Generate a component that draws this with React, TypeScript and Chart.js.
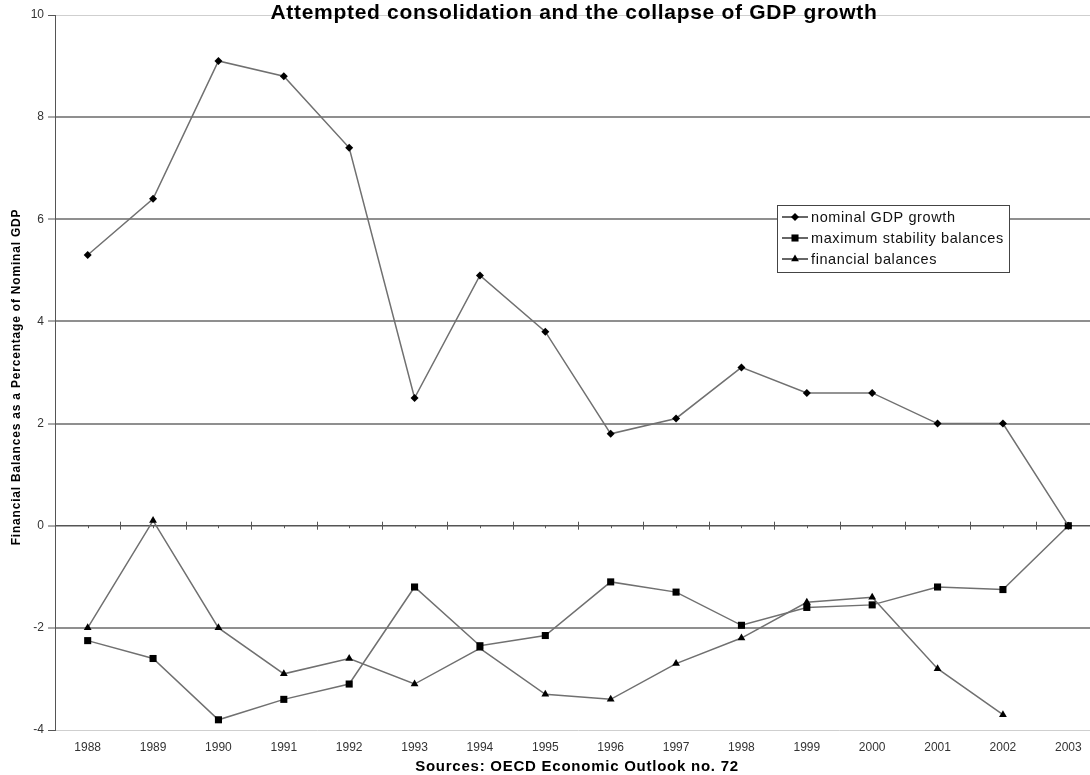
import React, { useEffect, useRef } from "react";
import { Chart, registerables } from "chart.js";

Chart.register(...registerables);

const years = ["1988","1989","1990","1991","1992","1993","1994","1995","1996","1997","1998","1999","2000","2001","2002","2003"];
const nominalGdpGrowth = [5.3, 6.4, 9.1, 8.8, 7.4, 2.5, 4.9, 3.8, 1.8, 2.1, 3.1, 2.6, 2.6, 2.0, 2.0, 0.0];
const maxStabilityBalances = [-2.25, -2.6, -3.8, -3.4, -3.1, -1.2, -2.35, -2.15, -1.1, -1.3, -1.95, -1.6, -1.55, -1.2, -1.25, 0.0];
const financialBalances = [-2.0, 0.1, -2.0, -2.9, -2.6, -3.1, -2.4, -3.3, -3.4, -2.7, -2.2, -1.5, -1.4, -2.8, -3.7, null];
const seriesNames = ["nominal GDP growth", "maximum stability balances", "financial balances"];
const titleText = "Attempted consolidation and the collapse of GDP growth";
const sourceText = "Sources: OECD Economic Outlook no. 72";
const yAxisTitle = "Financial Balances as a Percentage of Nominal GDP";

const FONT = "'Liberation Sans', Arial, sans-serif";
const LINE = "#707070";
const styles: { style: any; radius: number }[] = [
  { style: "rectRot", radius: 4 },
  { style: "rect", radius: 5 },
  { style: "triangle", radius: 4.5 },
];

function drawMarker(ctx: CanvasRenderingContext2D, style: string, r: number, x: number, y: number) {
  ctx.save();
  ctx.fillStyle = "#000";
  ctx.beginPath();
  if (style === "rectRot") {
    ctx.moveTo(x, y - r);
    ctx.lineTo(x + r, y);
    ctx.lineTo(x, y + r);
    ctx.lineTo(x - r, y);
  } else if (style === "rect") {
    const s = r * Math.SQRT1_2;
    ctx.rect(x - s, y - s, 2 * s, 2 * s);
  } else {
    const w = (r * Math.sqrt(3)) / 2;
    ctx.moveTo(x, y - r);
    ctx.lineTo(x + w, y + r / 2);
    ctx.lineTo(x - w, y + r / 2);
  }
  ctx.closePath();
  ctx.fill();
  ctx.restore();
}

function spacedText(ctx: any, text: string, x: number, y: number, spacing: number) {
  ctx.letterSpacing = `${spacing}px`;
  ctx.fillText(text, x, y);
  ctx.letterSpacing = "0px";
}

const decorPlugin = {
  id: "decor",
  beforeDatasetsDraw(chart: any) {
    const { ctx, chartArea, scales } = chart;
    const x = scales.x;
    const y0 = scales.y.getPixelForValue(0);
    ctx.save();
    ctx.strokeStyle = "#555";
    ctx.lineWidth = 1.5;
    ctx.beginPath();
    ctx.moveTo(chartArea.left, y0);
    ctx.lineTo(chartArea.right, y0);
    ctx.stroke();
    ctx.lineWidth = 1;
    const step = x.getPixelForValue(1) - x.getPixelForValue(0);
    for (let i = 0; i <= years.length; i++) {
      const bx = Math.round(x.getPixelForValue(i) - step / 2) + 0.5;
      ctx.beginPath();
      ctx.moveTo(bx, y0 - 4);
      ctx.lineTo(bx, y0 + 4);
      ctx.stroke();
    }
    for (let i = 0; i < years.length; i++) {
      const cx = Math.round(x.getPixelForValue(i)) + 0.5;
      ctx.beginPath();
      ctx.moveTo(cx, y0);
      ctx.lineTo(cx, y0 + 2.5);
      ctx.stroke();
    }
    ctx.restore();
  },
  afterDraw(chart: any) {
    const { ctx } = chart;
    ctx.save();
    ctx.fillStyle = "#000";
    ctx.textAlign = "center";
    ctx.textBaseline = "alphabetic";
    ctx.font = `bold 21px ${FONT}`;
    spacedText(ctx, titleText, 574, 19, 0.7);
    ctx.font = `bold 15px ${FONT}`;
    spacedText(ctx, sourceText, 577, 771, 0.75);
    ctx.save();
    ctx.translate(20, 377);
    ctx.rotate(-Math.PI / 2);
    ctx.font = `bold 12px ${FONT}`;
    spacedText(ctx, yAxisTitle, 0, 0, 0.8);
    ctx.restore();
    // legend
    const bx = 777, by = 205, bw = 232, bh = 67;
    ctx.fillStyle = "#fff";
    ctx.fillRect(bx, by, bw, bh);
    ctx.strokeStyle = "#444";
    ctx.lineWidth = 1;
    ctx.strokeRect(bx + 0.5, by + 0.5, bw, bh);
    ctx.font = `14.5px ${FONT}`;
    ctx.textAlign = "left";
    ctx.textBaseline = "middle";
    const rows = [217, 238, 259];
    seriesNames.forEach((name, i) => {
      const ry = rows[i];
      ctx.strokeStyle = "#333";
      ctx.lineWidth = 1.5;
      ctx.beginPath();
      ctx.moveTo(782, ry);
      ctx.lineTo(808, ry);
      ctx.stroke();
      drawMarker(ctx, styles[i].style, styles[i].radius, 795, ry);
      ctx.fillStyle = "#111";
      spacedText(ctx, name, 811, ry + 0.5, 0.6);
    });
    ctx.restore();
  },
};

export default function App() {
  const ref = useRef<HTMLCanvasElement | null>(null);
  useEffect(() => {
    document.documentElement.style.overflow = "hidden";
    document.body.style.overflow = "hidden";
    const canvas = ref.current!;
    const series = [nominalGdpGrowth, maxStabilityBalances, financialBalances];
    const chart = new Chart(canvas, {
      type: "line",
      data: {
        labels: years,
        datasets: series.map((d, i) => ({
          label: seriesNames[i],
          data: d,
          borderColor: LINE,
          borderWidth: 1.5,
          tension: 0,
          spanGaps: false,
          pointStyle: styles[i].style,
          pointRadius: styles[i].radius,
          pointBackgroundColor: "#000",
          pointBorderColor: "#000",
          pointBorderWidth: 0,
          fill: false,
        })),
      },
      plugins: [decorPlugin],
      options: {
        responsive: false,
        animation: false,
        devicePixelRatio: 1,
        layout: { padding: { left: 0, top: 15, right: 9, bottom: 0 } },
        plugins: {
          legend: { display: false },
          title: { display: false },
          tooltip: { enabled: false },
        },
        scales: {
          x: {
            type: "category",
            offset: true,
            grid: { display: false, drawTicks: false },
            border: { display: false },
            ticks: {
              padding: 10,
              color: "#333",
              font: { family: FONT, size: 12 },
              maxRotation: 0,
              autoSkip: false,
            },
            afterFit: (s: any) => { s.height = 45; },
          },
          y: {
            min: -4,
            max: 10,
            ticks: {
              stepSize: 2,
              padding: 4,
              color: "#333",
              font: { family: FONT, size: 12 },
            },
            grid: {
              drawTicks: true,
              tickLength: 7,
              tickColor: "#555",
              tickWidth: 1,
              color: (c: any) => {
                const v = c.tick?.value;
                if (v === 0) return "rgba(0,0,0,0)";
                if (v === 10 || v === -4) return "#cfcfcf";
                return "#8f8f8f";
              },
              lineWidth: (c: any) => {
                const v = c.tick?.value;
                if (v === 10 || v === -4) return 1;
                return 2;
              },
            },
            border: { display: true, color: "#555", width: 1 },
            afterFit: (s: any) => { s.width = 55; },
          },
        },
      } as any,
    });
    return () => chart.destroy();
  }, []);
  return (
    <div style={{ position: "fixed", left: 0, top: 0, width: 1090, height: 775, overflow: "hidden", background: "#fff" }}>
      <canvas ref={ref} width={1110} height={775} style={{ display: "block" }} />
    </div>
  );
}
